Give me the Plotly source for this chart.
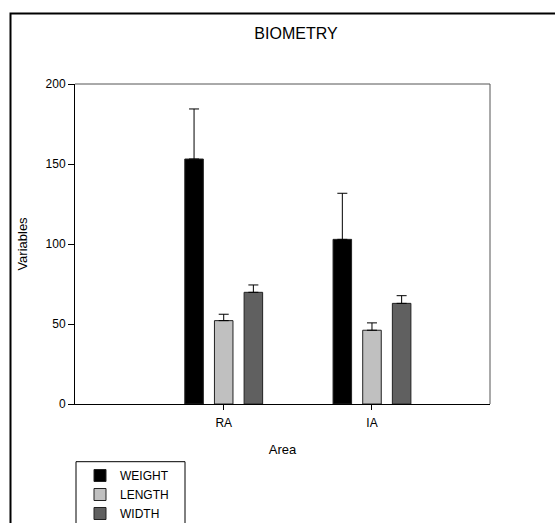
import plotly.graph_objects as go

categories = ["RA", "IA"]
cat_pos = [0, 1]
series_names = ["WEIGHT", "LENGTH", "WIDTH"]
weight = [153.1, 102.9]
length = [52.1, 46.1]
width = [69.8, 62.9]
weight_err = [31.3, 28.8]
length_err = [4.0, 4.6]
width_err = [4.6, 4.8]
y_ticks = [0, 50, 100, 150, 200]

values = [weight, length, width]
errors = [weight_err, length_err, width_err]
colors = ["#000000", "#c0c0c0", "#606060"]

FONT = "Liberation Sans, Arial, sans-serif"

fig = go.Figure()
for name, vals, errs, col in zip(series_names, values, errors, colors):
    fig.add_trace(go.Bar(
        x=cat_pos, y=vals, name=name,
        marker=dict(color=col, line=dict(color="#222222", width=1)),
        error_y=dict(type="data", array=errs, arrayminus=[0] * len(errs),
                     symmetric=False, color="#000000", thickness=1, width=5),
    ))

fig.update_layout(
    width=555, height=523,
    margin=dict(l=75, r=65, t=84, b=119, autoexpand=False),
    paper_bgcolor="white", plot_bgcolor="white",
    barmode="group", bargap=0.4, bargroupgap=0.375,
    font=dict(family=FONT, size=12, color="#000000"),
    title=dict(text="BIOMETRY", x=296 / 555, xanchor="center",
               y=1 - 33 / 523, yanchor="middle",
               font=dict(family=FONT, size=16, color="#000000")),
    showlegend=True,
    legend=dict(x=(80 - 75) / 415, xanchor="left", y=(404 - 461) / 320, yanchor="top",
                bgcolor="rgba(0,0,0,0)", borderwidth=0,
                font=dict(family=FONT, size=12, color="#000000"),
                traceorder="normal"),
    xaxis=dict(range=[-1.003, 1.796], tickmode="array", tickvals=cat_pos, ticktext=categories,
               showgrid=False, zeroline=False, showline=True, linecolor="#000000", linewidth=1,
               ticks="outside", ticklen=5, tickcolor="#000000", automargin=False,
               ticklabelstandoff=3,
               title=dict(text="Area", standoff=15, font=dict(size=13))),
    yaxis=dict(range=[0, 200], tickmode="array", tickvals=y_ticks,
               showgrid=False, zeroline=False, showline=True, linecolor="#000000", linewidth=1,
               ticks="outside", ticklen=6, tickcolor="#000000", automargin=False,
               title=dict(text="Variables", font=dict(size=13))),
)

# top / right frame of plot area
fig.add_shape(type="line", xref="paper", yref="paper", x0=0, x1=1, y0=1, y1=1,
              line=dict(color="#555555", width=1))
fig.add_shape(type="line", xref="paper", yref="paper", x0=1, x1=1, y0=0, y1=1,
              line=dict(color="#555555", width=1))
# outer figure frame (extends beyond bottom/right)
fig.add_shape(type="rect", xref="paper", yref="paper",
              x0=(10.5 - 75) / 415, x1=1.3, y0=-0.6, y1=(404 - 13.5) / 320,
              line=dict(color="#000000", width=2), layer="below")
# legend frame (extends beyond bottom)
fig.add_shape(type="rect", xref="paper", yref="paper",
              x0=(76 - 75) / 415, x1=(185 - 75) / 415, y0=-0.6, y1=(404 - 461.7) / 320,
              line=dict(color="#000000", width=1))

fig.write_html("out.html", config={"displayModeBar": False},
               post_script="document.body.style.margin='0';")
